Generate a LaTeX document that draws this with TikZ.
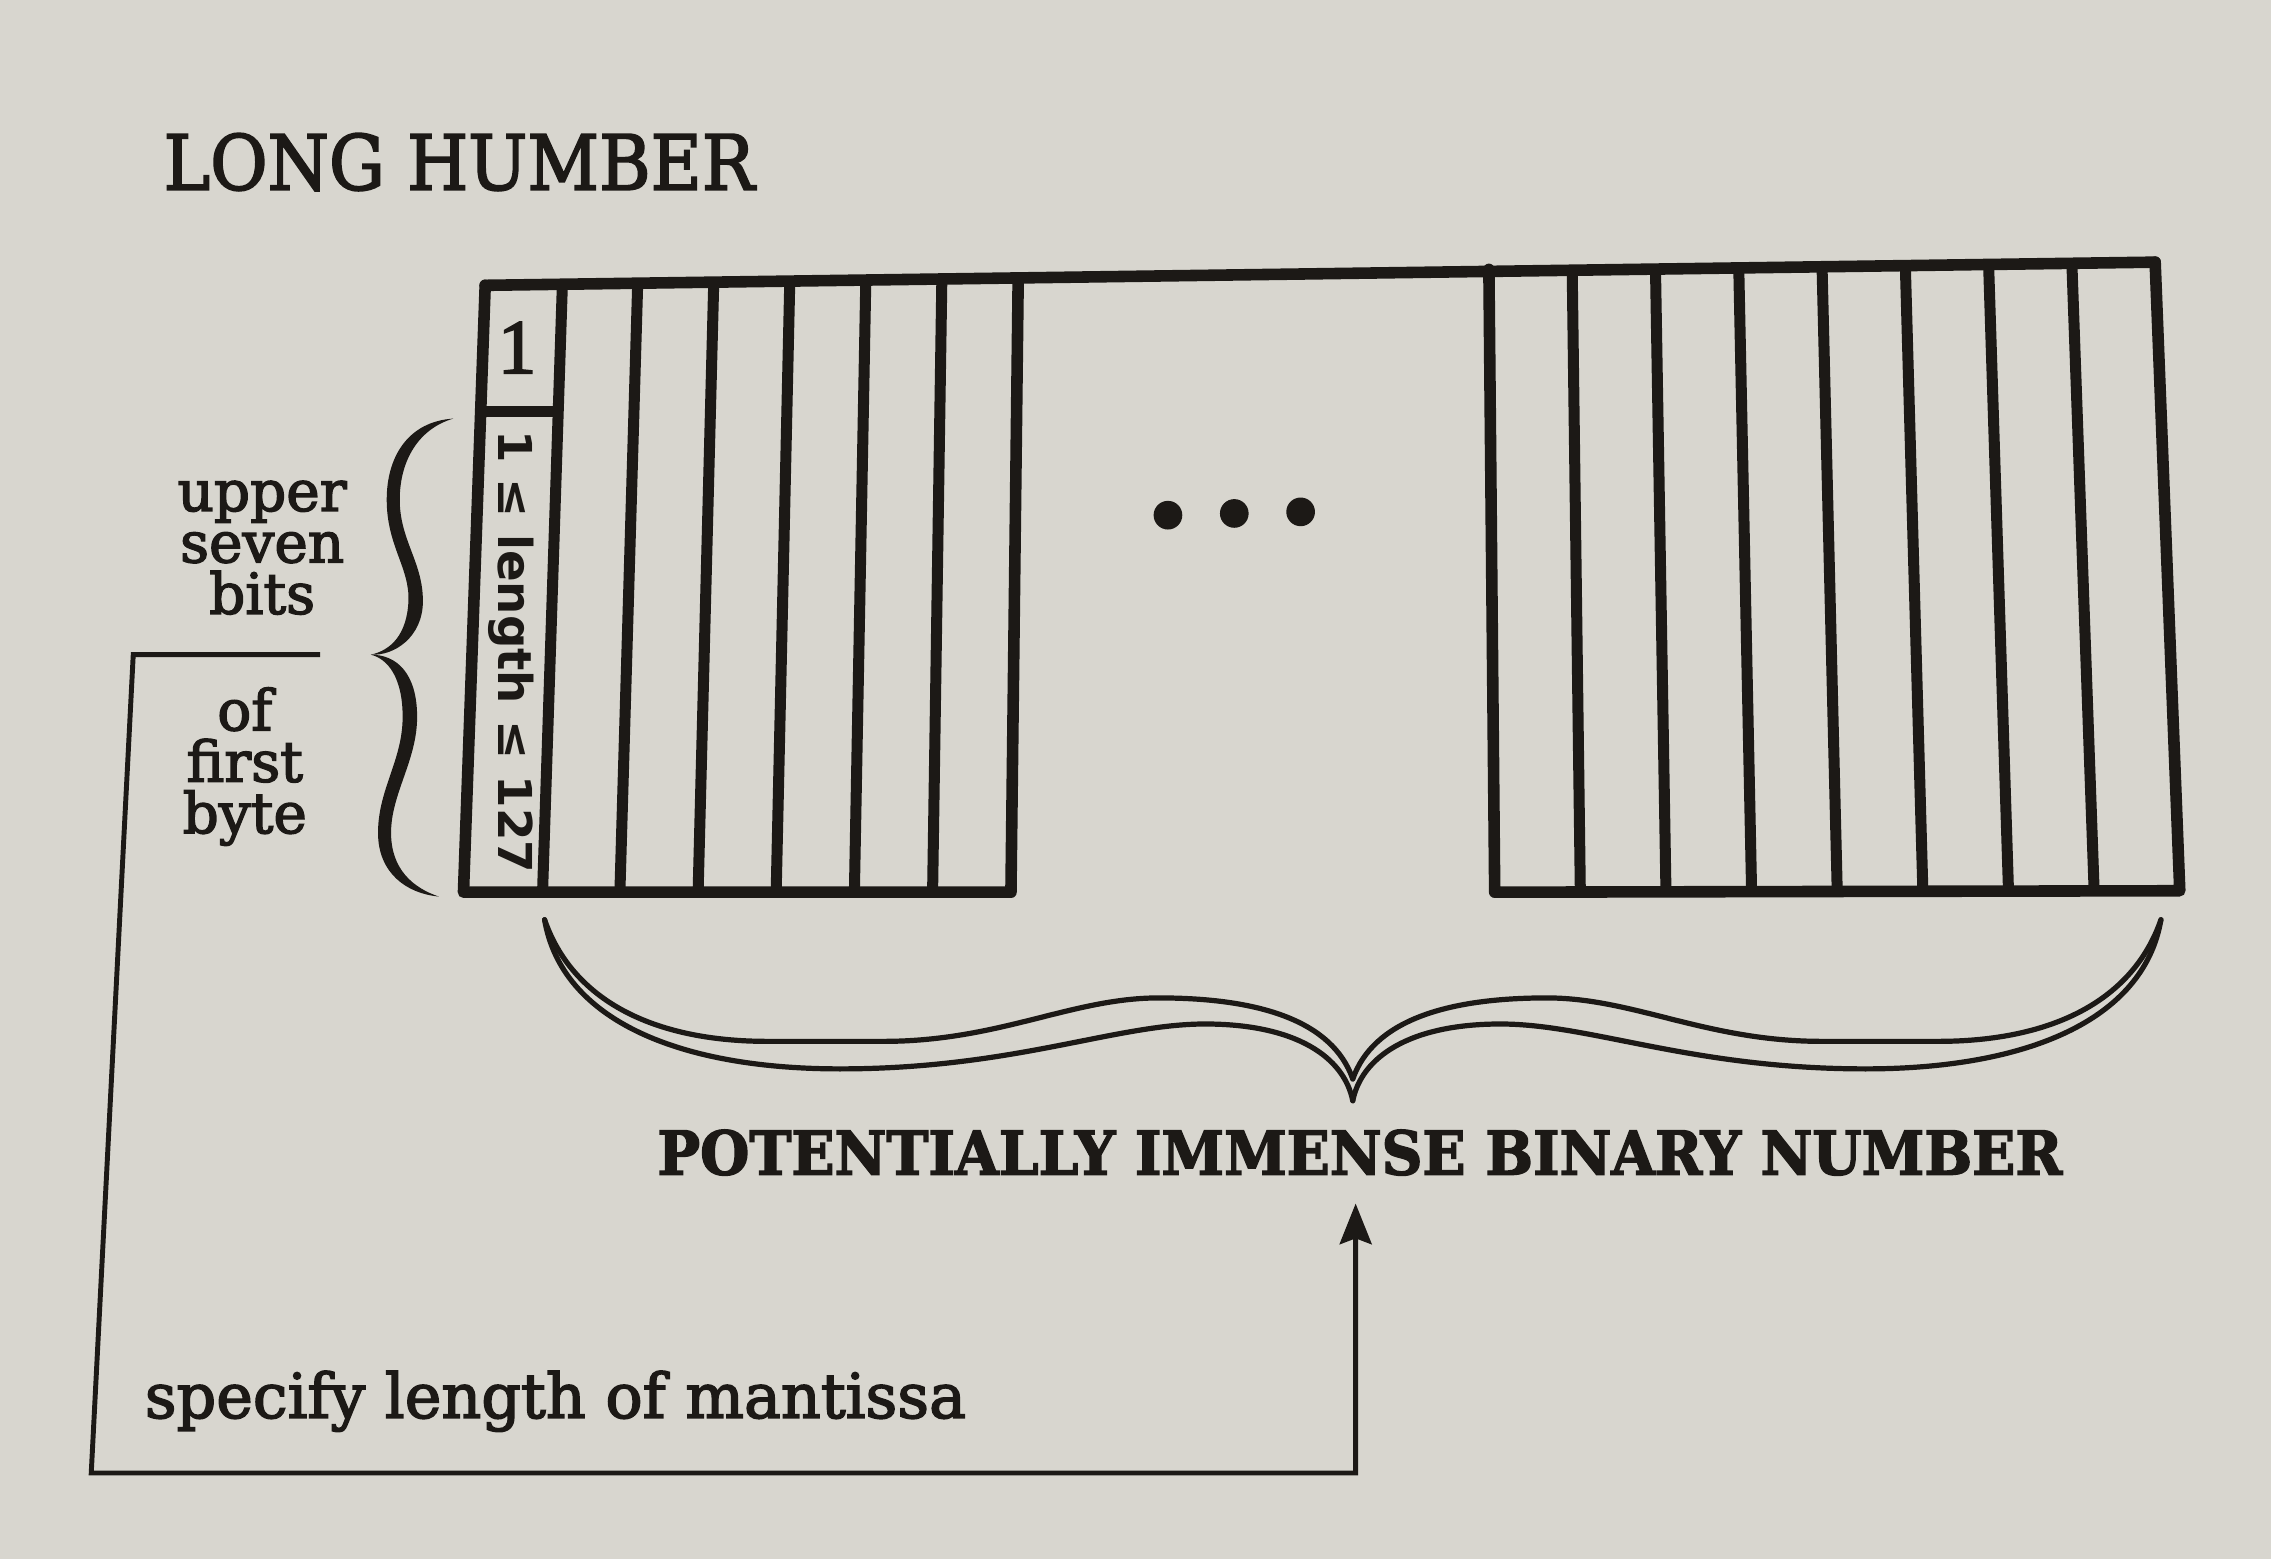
\documentclass[tikz,border=0pt]{standalone}
\usepackage{fontspec}
\setmainfont{DejaVu Serif}
\newfontfamily\heavyserif[FakeBold=2.5]{DejaVu Serif}
\newfontfamily\sansfam{DejaVu Sans}
\newfontfamily\timesfam[FakeBold=2.5]{Liberation Serif}
\usetikzlibrary{calc,arrows.meta}
\definecolor{paper}{HTML}{D8D6CF}
\definecolor{ink}{HTML}{1C1916}
\tikzset{
  boxline/.style={draw=ink,line width=4pt,line cap=round,line join=round},
  cellline/.style={draw=ink,line width=3.8pt},
  connline/.style={draw=ink,line width=1.7pt,line join=miter},
  bracestroke/.style={draw=ink,line width=1.8pt,line join=round,line cap=round},
  lbl/.style={inner sep=0pt,outer sep=0pt,text=ink},
  wordblock/.style={lbl,anchor=north,align=center,font=\heavyserif\fontsize{19.5}{17.75}\selectfont},
  dotmark/.style={circle,fill=ink,draw=none,inner sep=0pt,minimum size=9.9pt}
}
\begin{document}
\begin{tikzpicture}[x=0.5pt,y=-0.5pt]
\useasboundingbox (0,0) rectangle (1568,1076.4);
\fill[paper] (0,0) rectangle (1568,1076.4);

% title
\node[lbl,anchor=base west] (title) at (113,131) {\resizebox{204pt}{19.5pt}{\heavyserif LONG HUMBER}};

% geometry (slight keystone as in the photograph)
\coordinate (TL) at (335,197);
\coordinate (TR) at (1488,181);
\coordinate (LBL) at (320,616);
\coordinate (LBR) at (698,616);
\coordinate (LTR) at (703,192);
\coordinate (RTL) at (1028,186);
\coordinate (RBL) at (1032,616);
\coordinate (RBR) at (1505,615);

% left box cells
\foreach \xt/\xb in {388.3/374.6,440.3/428.0,492.8/482.0,545.3/535.9,597.8/589.9,650.3/643.9}{
  \draw[cellline] ($(TL)!{(\xt-335)/1153}!(TR)$) -- (\xb,616);
}
\draw[cellline] (333,284) -- (385,284);
% right box cells
\foreach \i in {1,...,7}{
  \draw[cellline] ($(RTL)!{\i/8}!(TR)$) -- ($(RBL)!{\i/8}!(RBR)$);
}
% outlines
\draw[boxline] (TL) -- (TR);
\draw[boxline] (TL) -- (LBL) -- (LBR) -- (LTR);
\draw[boxline] (RTL) -- (RBL) -- (RBR) -- (TR);

% cell texts
\node[lbl] (one) at (357,240) {\timesfam\fontsize{26.6}{27}\selectfont 1};
\node[lbl,rotate=-90] (len) at (353,450) {\resizebox{153pt}{!}{\sansfam\bfseries\fontsize{16}{16}\selectfont 1 ≤ length ≤ 127}};

% dots
\node[dotmark] (d1) at (806.4,355.7) {};
\node[dotmark] (d2) at (852.2,354.5) {};
\node[dotmark] (d3) at (898,353.4) {};

% left labels
\node[wordblock] (upperlbl) at (181,332) {upper\\seven\\bits};
\node[wordblock] (lowerlbl) at (169,474.6) {of\\first\\byte};

% curly brace (tapered, filled)
\fill[ink] (313,289) .. controls (282,291) and (267,315) .. (267,345)
  .. controls (267,377) and (283,392) .. (282,415)
  .. controls (281,438) and (270,449) .. (256,452)
  .. controls (272,453) and (292,440) .. (292,415)
  .. controls (292,388) and (276,373) .. (276,345)
  .. controls (276,318) and (289,296) .. (313,289) -- cycle;
\fill[ink] (256,452) .. controls (268,455) and (278,468) .. (278,495)
  .. controls (278,525) and (261,545) .. (261,575)
  .. controls (261,603) and (281,617) .. (303,619)
  .. controls (285,613) and (270,600) .. (270,575)
  .. controls (270,548) and (288,525) .. (288,495)
  .. controls (288,465) and (274,452) .. (256,452) -- cycle;

% bottom ornamental brace
\draw[bracestroke] (376,635) .. controls (395,690) and (450,719) .. (530,719) -- (610,719)
  .. controls (690,719) and (740,689) .. (800,689) .. controls (870,689) and (920,705) .. (934,745);
\draw[bracestroke] (376,635) .. controls (388,705) and (470,738) .. (580,738)
  .. controls (700,738) and (770,707) .. (832,707) .. controls (895,707) and (928,730) .. (934,760);
\draw[bracestroke] (1492,635) .. controls (1473,690) and (1418,719) .. (1338,719) -- (1258,719)
  .. controls (1178,719) and (1128,689) .. (1068,689) .. controls (998,689) and (948,705) .. (934,745);
\draw[bracestroke] (1492,635) .. controls (1480,705) and (1398,738) .. (1288,738)
  .. controls (1168,738) and (1098,707) .. (1036,707) .. controls (973,707) and (940,730) .. (934,760);

% big label
\node[lbl,anchor=base west] (pot) at (454,811) {\resizebox{485pt}{15.5pt}{\sffamily\heavyserif\bfseries POTENTIALLY IMMENSE BINARY NUMBER}};

% bottom label
\node[lbl,anchor=base west] (spec) at (100,979) {\resizebox{283.5pt}{!}{\heavyserif\fontsize{19.7}{20}\selectfont specify length of mantissa}};

% connector
\coordinate (cstart) at (221,452);
\coordinate (c1) at (92,452);
\coordinate (c2) at (63,1017);
\coordinate (c3) at (936,1017);
\coordinate (ptip) at (936,831);
\draw[connline,-{Stealth[length=14pt,width=11pt,inset=2pt]}] (cstart) -- (c1) -- (c2) -- (c3) -- (ptip);
\end{tikzpicture}
\end{document}
